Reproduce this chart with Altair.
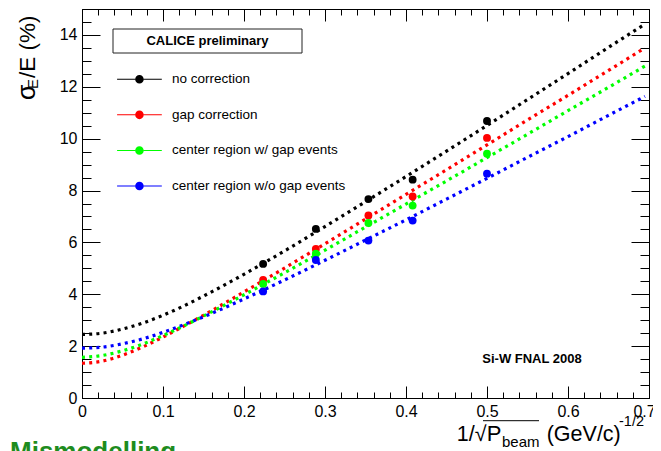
import altair as alt
import pandas as pd

# ---------------- data ----------------
series_names = ["no correction", "gap correction",
                "center region w/ gap events", "center region w/o gap events"]
series_colors = ["#000000", "#ff0000", "#00ff00", "#0000ff"]

point_x = [0.2236, 0.2887, 0.3536, 0.4082, 0.5000]
pts_no = [5.17, 6.52, 7.67, 8.42, 10.68]
pts_gap = [4.55, 5.75, 7.04, 7.77, 10.03]
pts_w = [4.40, 5.56, 6.75, 7.42, 9.42]
pts_wo = [4.11, 5.32, 6.07, 6.84, 8.65]

fit_x = [0.0, 0.025, 0.05, 0.075, 0.1, 0.125, 0.15, 0.2, 0.25, 0.3,
         0.35, 0.4, 0.45, 0.5, 0.55, 0.6, 0.65, 0.695]
fit_no = [2.45, 2.50, 2.66, 2.89, 3.19, 3.54, 3.93, 4.77, 5.67, 6.61,
          7.57, 8.54, 9.52, 10.51, 11.51, 12.51, 13.52, 14.42]
fit_gap = [1.34, 1.42, 1.65, 1.97, 2.35, 2.76, 3.19, 4.09, 5.01, 5.95,
           6.90, 7.85, 8.80, 9.76, 10.72, 11.67, 12.63, 13.50]
fit_w = [1.57, 1.64, 1.82, 2.08, 2.41, 2.77, 3.16, 3.98, 4.83, 5.70,
         6.59, 7.48, 8.37, 9.27, 10.17, 11.08, 11.98, 12.80]
fit_wo = [1.92, 1.96, 2.09, 2.28, 2.53, 2.82, 3.13, 3.82, 4.55, 5.31,
          6.09, 6.87, 7.67, 8.47, 9.28, 10.08, 10.90, 11.63]

x_major = [0.0, 0.1, 0.2, 0.3, 0.4, 0.5, 0.6, 0.7]
x_last = [0.7]
x_minor = [round(0.02 * i, 2) for i in range(36)]
y_major = [0, 2, 4, 6, 8, 10, 12, 14]
y_minor = [0.5 * i for i in range(31)]

point_values = [pts_no, pts_gap, pts_w, pts_wo]
fit_values = [fit_no, fit_gap, fit_w, fit_wo]

points_df = pd.DataFrame([
    {"series": s, "x": x, "y": y}
    for s, ys in zip(series_names, point_values)
    for x, y in zip(point_x, ys)
])
fit_df = pd.DataFrame([
    {"series": s, "x": x, "y": y}
    for s, ys in zip(series_names, fit_values)
    for x, y in zip(fit_x, ys)
])
one = pd.DataFrame({"k": [0]})

# ---------------- styling ----------------
W, H = 567, 389
FONT = "Liberation Sans"

xs = alt.Scale(domain=[0, 0.7], nice=False, zero=False)
ys = alt.Scale(domain=[0, 15], nice=False, zero=False)
cs = alt.Scale(domain=series_names, range=series_colors)

LABEL_STYLE = dict(labelFont=FONT, labelFontSize=16, labelColor="#000",
                   labelPadding=5, labelFlush=False, labelOverlap=False)


def axis(orient, values, size, labels, expr=None):
    kw = dict(orient=orient, values=values, tickSize=size, offset=-size,
              domain=False, grid=False, title=None, ticks=True,
              tickColor="#000", tickWidth=1, labels=labels)
    if labels:
        kw.update(LABEL_STYLE)
        if expr:
            kw["labelExpr"] = expr
    return alt.Axis(**kw)


xfmt = ("datum.value > 0.65 ? '' : "
        "(datum.value == 0 ? '0' : format(datum.value, '.1f'))")
axes_plan = [
    (axis("bottom", x_major, 12, True, xfmt), axis("left", y_major, 18, True)),
    (axis("bottom", x_minor, 6, False), axis("left", y_minor, 9, False)),
    (axis("top", x_major, 12, False), axis("right", y_major, 18, False)),
    (axis("top", x_minor, 6, False), axis("right", y_minor, 9, False)),
]

layers = []
for name, col, (ax, ay) in zip(series_names, series_colors, axes_plan):
    layers.append(
        alt.Chart(fit_df)
        .transform_filter(alt.datum.series == name)
        .mark_line(strokeWidth=3.2, strokeDash=[3, 4.2], strokeCap="butt",
                   interpolate="monotone", color=col)
        .encode(
            x=alt.X("x:Q", scale=xs, axis=ax),
            y=alt.Y("y:Q", scale=ys, axis=ay),
        )
    )

LEG_PATH = ("M-5.2,-0.12H-1V0.12H-5.2Z M1,-0.12H5.2V0.12H1Z "
            "M1,0A1,1,0,1,1,-1,0A1,1,0,1,1,1,0Z")
legend = alt.Legend(orient="none", legendX=50.7, legendY=63.5, title=None,
                    symbolType=LEG_PATH, symbolSize=74, symbolStrokeWidth=0,
                    symbolOpacity=1, labelFont=FONT, labelFontSize=13.5,
                    labelColor="#000", labelOffset=25.7, rowPadding=20.6,
                    labelLimit=0, padding=0)

last_label_axis = alt.Axis(orient="bottom", values=x_last, ticks=False, tickSize=0,
                           domain=False, grid=False, title=None, labelOffset=-5,
                           format=".1f", **LABEL_STYLE)

layers.append(
    alt.Chart(points_df)
    .mark_point(filled=True, size=62, opacity=1)
    .encode(
        x=alt.X("x:Q", scale=xs, axis=last_label_axis),
        y=alt.Y("y:Q", scale=ys, axis=None),
        color=alt.Color("series:N", scale=cs, legend=legend),
    )
)

# CALICE box
layers.append(
    alt.Chart(one).mark_rect(fill="white", stroke="#222", strokeWidth=1)
    .encode(x=alt.value(31), x2=alt.value(220), y=alt.value(20), y2=alt.value(44))
)


def txt(text, x, y, size, bold=False, align="left", baseline="alphabetic",
        angle=0, color="#000"):
    kw = dict(text=text, font=FONT, fontSize=size, align=align,
              baseline=baseline, color=color,
              fontWeight="bold" if bold else "normal")
    if angle:
        kw["angle"] = angle
    return alt.Chart(one).mark_text(**kw).encode(x=alt.value(x), y=alt.value(y))


layers += [
    txt("CALICE preliminary", 125.5, 32, 13, bold=True, align="center", baseline="middle"),
    txt("Si-W FNAL 2008", 450, 350, 13, bold=True, align="center", baseline="middle"),
    # y title: sigma_E/E (%)
    txt("σ", -47, 91, 25, angle=270),
    txt("E", -44, 80, 15, angle=270),
    txt("/E (%)", -47, 69, 22.5, angle=270),
    # x title: 1/sqrt(P_beam) (GeV/c)^-1/2
    txt("1/√", 374.7, 431.7, 21.5),
    txt("P", 404.7, 431.7, 22),
    txt("beam", 420, 437.7, 15),
    txt("(GeV/c)", 464.7, 431.7, 21.5),
    txt("-1/2", 537, 417, 14.5),
    # slide text below the plot (cut off by the window)
    txt("Mismodelling", -72, 451, 26, bold=True, color="#1e8c1e"),
]
layers.append(
    alt.Chart(one).mark_rule(color="#000", strokeWidth=1)
    .encode(x=alt.value(401), x2=alt.value(457), y=alt.value(411.7))
)

chart = (
    alt.layer(*layers)
    .resolve_axis(x="independent", y="independent")
    .properties(width=W, height=H,
                autosize=alt.AutoSizeParams(type="none"),
                padding={"left": 74, "top": 1, "right": 4, "bottom": 53},
                background="white")
    .configure_view(stroke="#000", strokeWidth=1)
)

chart.save("out.html", embed_options={"renderer": "svg", "actions": False})
